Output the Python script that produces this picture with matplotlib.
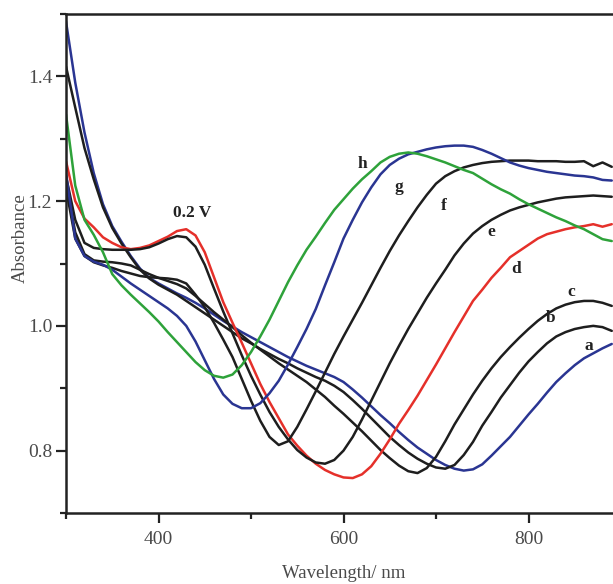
import matplotlib
matplotlib.use("Agg")
import matplotlib.pyplot as plt
from matplotlib.ticker import MultipleLocator

wavelength = list(range(300, 900, 10))

a = [1.488,1.390,1.310,1.245,1.195,1.160,1.135,1.112,1.092,1.077,
     1.068,1.060,1.052,1.045,1.037,1.028,1.018,1.008,0.999,0.990,
     0.982,0.974,0.966,0.958,0.950,0.943,0.936,0.930,0.924,0.918,
     0.910,0.898,0.885,0.871,0.857,0.844,0.830,0.817,0.805,0.795,
     0.785,0.777,0.771,0.768,0.770,0.778,0.792,0.807,0.822,0.840,
     0.858,0.875,0.893,0.910,0.924,0.937,0.948,0.956,0.964,0.971]
b = [1.416,1.350,1.285,1.235,1.190,1.157,1.132,1.110,1.090,1.076,
     1.066,1.058,1.050,1.040,1.030,1.020,1.010,1.000,0.990,0.980,
     0.972,0.963,0.955,0.947,0.940,0.932,0.925,0.918,0.912,0.904,
     0.894,0.881,0.867,0.852,0.837,0.822,0.809,0.797,0.787,0.779,
     0.773,0.771,0.777,0.793,0.814,0.840,0.862,0.885,0.905,0.925,
     0.943,0.958,0.972,0.983,0.990,0.995,0.998,1.000,0.998,0.992]
c = [1.230,1.150,1.115,1.105,1.103,1.102,1.100,1.097,1.090,1.083,
     1.077,1.072,1.067,1.060,1.048,1.035,1.022,1.010,0.998,0.985,
     0.973,0.962,0.951,0.940,0.930,0.920,0.910,0.898,0.886,0.872,
     0.859,0.845,0.831,0.816,0.801,0.788,0.776,0.767,0.764,0.772,
     0.790,0.815,0.842,0.866,0.890,0.912,0.932,0.950,0.966,0.981,
     0.995,1.008,1.019,1.028,1.034,1.038,1.040,1.040,1.037,1.032]
d = [1.264,1.200,1.172,1.158,1.142,1.133,1.126,1.123,1.125,1.129,
     1.136,1.143,1.152,1.155,1.145,1.118,1.078,1.038,1.005,0.973,
     0.940,0.907,0.878,0.852,0.826,0.808,0.792,0.779,0.769,0.762,
     0.757,0.756,0.762,0.775,0.795,0.818,0.843,0.865,0.888,0.913,
     0.938,0.964,0.990,1.015,1.040,1.058,1.077,1.093,1.110,1.120,
     1.130,1.140,1.147,1.151,1.155,1.158,1.160,1.163,1.159,1.163]
e = [1.240,1.170,1.133,1.125,1.123,1.122,1.122,1.122,1.123,1.126,
     1.132,1.139,1.144,1.142,1.127,1.098,1.060,1.023,0.988,0.953,
     0.920,0.890,0.862,0.838,0.818,0.801,0.789,0.781,0.779,0.785,
     0.800,0.822,0.850,0.880,0.910,0.940,0.968,0.995,1.020,1.045,
     1.068,1.090,1.113,1.132,1.148,1.160,1.170,1.178,1.185,1.190,
     1.194,1.198,1.201,1.204,1.206,1.207,1.208,1.209,1.208,1.207]
f = [1.220,1.140,1.112,1.102,1.097,1.093,1.088,1.084,1.080,1.078,
     1.077,1.076,1.074,1.068,1.050,1.030,1.005,0.978,0.950,0.915,
     0.880,0.848,0.822,0.809,0.815,0.838,0.866,0.895,0.925,0.955,
     0.983,1.010,1.037,1.065,1.093,1.120,1.145,1.168,1.190,1.210,
     1.228,1.240,1.248,1.254,1.258,1.261,1.263,1.264,1.265,1.265,
     1.265,1.264,1.264,1.264,1.263,1.263,1.264,1.256,1.262,1.255]
g = [1.245,1.140,1.112,1.103,1.098,1.090,1.079,1.068,1.058,1.048,
     1.038,1.028,1.016,1.000,0.975,0.945,0.915,0.890,0.875,0.868,
     0.868,0.876,0.892,0.912,0.938,0.966,0.995,1.027,1.065,1.102,
     1.140,1.170,1.198,1.222,1.243,1.258,1.268,1.275,1.279,1.283,
     1.286,1.288,1.289,1.289,1.287,1.282,1.276,1.269,1.262,1.257,
     1.253,1.250,1.247,1.245,1.243,1.241,1.240,1.238,1.234,1.233]
h = [1.339,1.225,1.170,1.146,1.118,1.083,1.065,1.050,1.036,1.022,
     1.007,0.990,0.974,0.958,0.942,0.929,0.920,0.917,0.922,0.937,
     0.958,0.983,1.010,1.040,1.070,1.097,1.122,1.143,1.165,1.186,
     1.203,1.220,1.235,1.248,1.262,1.271,1.276,1.278,1.276,1.272,
     1.267,1.262,1.256,1.250,1.245,1.236,1.227,1.219,1.212,1.203,
     1.195,1.188,1.181,1.174,1.168,1.161,1.155,1.147,1.139,1.136]

series = [("a", a), ("b", b), ("c", c), ("d", d), ("e", e), ("f", f), ("g", g), ("h", h)]
colors = {"a": "#2a3592", "b": "#1e1e1e", "c": "#1e1e1e", "d": "#e5302a",
          "e": "#1e1e1e", "f": "#1e1e1e", "g": "#2a3592", "h": "#2ea23a"}

label_names = ["h", "g", "f", "e", "d", "c", "b", "a", "0.2 V"]
label_x = [620, 660, 708, 760, 787, 846, 824, 865, 436]
label_y = [1.259, 1.222, 1.192, 1.150, 1.091, 1.054, 1.013, 0.968, 1.181]

W, H = 613, 584
fig = plt.figure(figsize=(W/100, H/100), dpi=100)
ax = fig.add_axes([66/W, 1-513/H, 555/W, 499/H])

for name, vals in series:
    ax.plot(wavelength, vals, color=colors[name], lw=1.8, solid_capstyle="round",
            solid_joinstyle="round")

ax.set_xlim(300, 900)
ax.set_ylim(0.7, 1.5)
ax.xaxis.set_minor_locator(MultipleLocator(100))
ax.yaxis.set_minor_locator(MultipleLocator(0.1))
ax.set_xticks([400, 600, 800])
ax.set_xticklabels(["400", "600", "800"])
ax.set_yticks([0.8, 1.0, 1.2, 1.4])
ax.set_yticklabels(["0.8", "1.0", "1.2", "1.4"])

spine_c = "#222222"
for s in ["left", "bottom", "top"]:
    ax.spines[s].set_linewidth(1.8)
    ax.spines[s].set_color(spine_c)
ax.spines["right"].set_visible(False)

ax.tick_params(which="major", direction="out", length=7, width=1.6, color=spine_c,
               labelsize=14, labelcolor="#4a4a4a", pad=3)
ax.tick_params(which="minor", direction="out", length=4.5, width=1.6, color=spine_c)
ax.tick_params(axis="x", which="major", pad=6)
for lab in ax.get_xticklabels() + ax.get_yticklabels():
    lab.set_family("Liberation Serif")

for t, x, y in zip(label_names, label_x, label_y):
    ax.text(x, y, t, fontsize=12.5, fontweight="bold", family="Liberation Serif",
            color="#222222", ha="center", va="center")

fig.text(20/W, 1-238/H, "Absorbance", rotation=90, ha="center", va="center",
         fontsize=13.5, family="Liberation Serif", color="#4a4a4a")
fig.text(344/W, 1-574/H, "Wavelength/ nm", ha="center", va="center",
         fontsize=13.5, family="Liberation Serif", color="#4a4a4a")

fig.savefig("out.png", dpi=100)
